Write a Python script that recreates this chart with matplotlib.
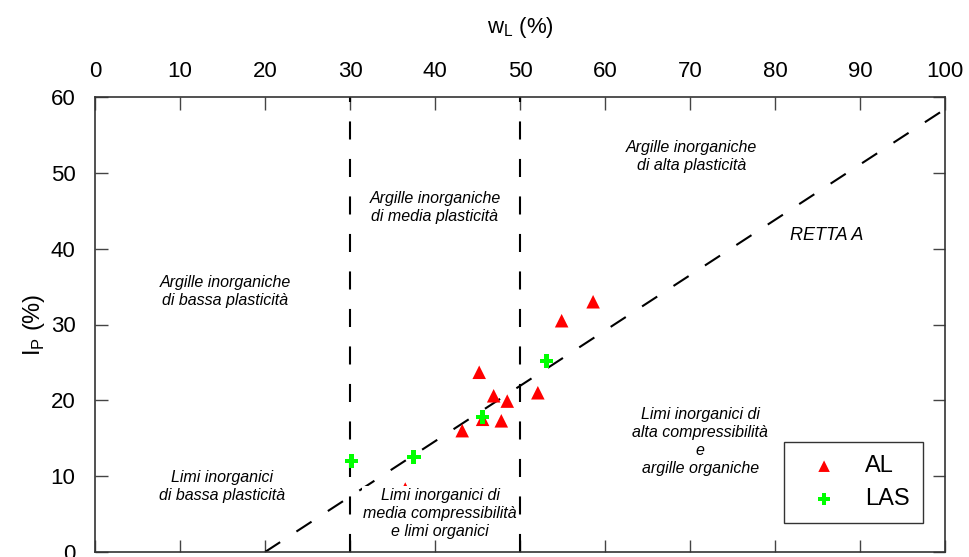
import matplotlib
matplotlib.use("Agg")
import matplotlib.pyplot as plt
import numpy as np

plt.rcParams['font.family'] = ['Liberation Sans', 'DejaVu Sans']
plt.rcParams['lines.scale_dashes'] = False

# dati
al_wl = [36.5, 45.2, 46.9, 48.5, 45.6, 47.8, 43.2, 52.1, 54.9, 58.6]
al_ip = [8.3, 23.7, 20.6, 19.9, 17.5, 17.3, 16.0, 21.0, 30.5, 33.0]
las_wl = [30.2, 37.5, 45.6, 53.1]
las_ip = [12.0, 12.5, 17.8, 25.2]

# retta A: Ip = 0.73 (wL - 20)
retta_wl = np.array([20, 100])
retta_ip = 0.73 * (retta_wl - 20)

limiti_wl = [30, 50]

fig = plt.figure(figsize=(9.7, 5.57), dpi=100)
ax = fig.add_axes([95/970, 5/557, 850/970, 455/557])

trat = (0, (13, 14))
ax.plot(retta_wl, retta_ip, color='black', lw=1.5, linestyle=trat, zorder=2)
for w in limiti_wl:
    ax.axvline(w, color='black', lw=1.5, linestyle=trat, zorder=2)

ax.scatter(al_wl, al_ip, marker='^', s=95, color='red', edgecolors='none', label='AL', zorder=3)
ax.scatter(las_wl, las_ip, marker='P', s=95, color='#00ff00', edgecolors='none', label='LAS', zorder=4)

ts = 11.5
kw = dict(ha='center', va='center', style='italic', fontsize=ts, linespacing=1.25)
ax.text(70.2, 52.2, "Argille inorganiche\ndi alta plasticità", **kw)
ax.text(40.0, 45.4, "Argille inorganiche\ndi media plasticità", **kw)
ax.text(15.3, 34.4, "Argille inorganiche\ndi bassa plasticità", **kw)
ax.text(71.2, 14.6, "Limi inorganici di\nalta compressibilità\ne\nargille organiche", **kw)
ax.text(14.9, 8.7, "Limi inorganici\ndi bassa plasticità", **kw)
ax.text(40.6, 5.1, "Limi inorganici di\nmedia compressibilità\ne limi organici", zorder=5,
        bbox=dict(facecolor='white', edgecolor='none', pad=1), **kw)
ax.text(86.1, 41.8, "RETTA A", ha='center', va='center', style='italic', fontsize=13)

ax.set_xlim(0, 100)
ax.set_ylim(0, 60)
ax.set_xticks(np.arange(0, 101, 10))
ax.set_yticks(np.arange(0, 61, 10))
ax.xaxis.tick_top()
ax.xaxis.set_label_position('top')
ax.tick_params(axis='both', direction='in', length=9, width=1, color='#444444',
               top=True, bottom=True, left=True, right=True, labelsize=16)
ax.tick_params(axis='x', labeltop=True, labelbottom=False, pad=11)
ax.tick_params(axis='y', pad=14)
ax.set_xlabel(r"w$_\mathregular{L}$ (%)", fontsize=16, labelpad=20)
ax.set_ylabel(r"I$_\mathregular{P}$ (%)", fontsize=17, labelpad=3)
for sp in ax.spines.values():
    sp.set_color('#333333')
    sp.set_linewidth(1.2)

leg = ax.legend(loc='lower right', bbox_to_anchor=((923 - 95) / 850, (552 - 523) / 455),
                borderaxespad=0, fontsize=17, frameon=True, fancybox=False,
                edgecolor='black', borderpad=0.55, handletextpad=0.6, labelspacing=0.45,
                markerscale=0.85, handlelength=2.3)
leg.get_frame().set_linewidth(1.0)

fig.savefig("out.png", dpi=100)
